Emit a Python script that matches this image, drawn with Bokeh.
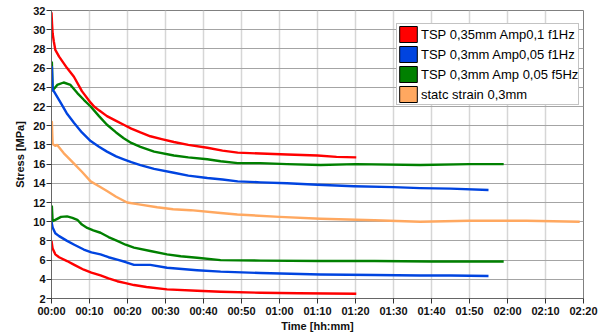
from bokeh.plotting import figure
from bokeh.models import Legend, LegendItem, FixedTicker, Range1d
from bokeh.embed import file_html
from bokeh.resources import INLINE

# Time axis in minutes, labelled as hh:mm
x_ticks = list(range(0, 141, 10))
x_tick_labels = ["00:00", "00:10", "00:20", "00:30", "00:40", "00:50", "01:00", "01:10",
                 "01:20", "01:30", "01:40", "01:50", "02:00", "02:10", "02:20"]
y_ticks = list(range(2, 33, 2))

# TSP 0,35mm Amp0,1 f1Hz (upper and lower stress envelopes)
red_hi_t = [0, 0.15, 0.3, 0.6, 1.0, 2.0, 4.1, 5.9, 8.0, 10.3, 11.2, 12.5, 14.6, 17, 19, 21, 23.4,
            26, 29, 32.2, 36, 41, 45, 49, 55, 62, 70, 75, 80.2]
red_hi_v = [31.8, 30.6, 29.6, 28.8, 27.9, 27.2, 26.0, 25.1, 23.6, 22.4, 22.0, 21.6, 21.0, 20.5,
            20.1, 19.7, 19.3, 18.9, 18.6, 18.3, 18.0, 17.7, 17.4, 17.2, 17.1, 17.0, 16.9, 16.75, 16.7]
red_lo_t = [0, 0.3, 1, 2, 4.1, 6, 8.5, 10.5, 12.9, 15, 17.3, 19.5, 21.7, 25, 30.4, 38.3, 44.5,
            55, 65, 80.2]
red_lo_v = [8.0, 7.2, 6.6, 6.3, 5.9, 5.5, 5.0, 4.7, 4.4, 4.1, 3.8, 3.6, 3.4, 3.2, 2.95, 2.8, 2.7,
            2.6, 2.55, 2.5]

# TSP 0,3mm Amp0,05 f1Hz
blue_hi_t = [0, 0.1, 0.3, 0.6, 2.4, 4, 5.9, 8, 10.3, 12.5, 14.6, 17, 19, 21, 23.4, 27, 32.2, 36,
             41, 45, 49, 55, 62, 70, 79.6, 90, 97, 105, 115]
blue_hi_v = [23.8, 26.1, 23.7, 23.6, 22.4, 21.3, 20.3, 19.3, 18.4, 17.8, 17.3, 16.8, 16.5, 16.2,
             15.9, 15.5, 15.1, 14.8, 14.55, 14.4, 14.2, 14.1, 14.0, 13.85, 13.7, 13.6, 13.5, 13.45, 13.3]
blue_lo_t = [0, 0.3, 1, 2, 4.1, 6, 8.5, 10.5, 12.9, 15, 17.3, 19.5, 21.7, 26, 30.4, 38.3, 44.5,
             55, 70.8, 85, 97, 105, 115]
blue_lo_v = [10.0, 9.4, 8.8, 8.5, 8.0, 7.6, 7.1, 6.8, 6.6, 6.3, 6.05, 5.8, 5.5, 5.5, 5.2, 4.95,
             4.8, 4.65, 4.5, 4.45, 4.4, 4.4, 4.35]

# TSP 0,3mm Amp 0,05 f5Hz
green_hi_t = [0, 0.1, 0.3, 0.8, 1.5, 3.2, 5, 6.8, 8.5, 10.3, 12.5, 14.6, 17, 19, 21, 23.4, 27,
              32.2, 36, 41, 44.5, 49, 55, 62, 70.8, 80, 97, 110, 119]
green_hi_v = [24.0, 26.6, 23.7, 23.9, 24.25, 24.5, 24.25, 23.4, 22.7, 22.0, 21.0, 20.1, 19.3,
              18.7, 18.2, 17.8, 17.3, 16.9, 16.7, 16.5, 16.3, 16.1, 16.1, 16.0, 15.9, 16.0, 15.9,
              16.0, 16.0]
green_lo_t = [0, 0.1, 0.3, 1.5, 2.5, 4.1, 5.5, 6.8, 8, 9.4, 11, 12.9, 15, 17.3, 19.5, 21.7, 26,
              30.4, 34, 38.3, 44.5, 55, 70.8, 85, 100, 110, 119]
green_lo_v = [10.2, 11.6, 10.05, 10.3, 10.5, 10.55, 10.4, 10.2, 9.7, 9.35, 9.1, 8.85, 8.4, 8.0,
              7.6, 7.3, 6.95, 6.6, 6.4, 6.25, 6.0, 5.95, 5.9, 5.9, 5.85, 5.85, 5.85]

# statc strain 0,3mm
orange_t = [0, 0.1, 0.3, 1, 1.5, 3.2, 5.8, 8, 10.3, 12.5, 14.6, 17, 19.9, 23, 27.8, 32, 36.6,
            44.5, 48.9, 60, 70.8, 85, 97, 110, 125, 139]
orange_v = [18.0, 20.4, 18.1, 17.9, 18.0, 17.15, 16.1, 15.2, 14.2, 13.7, 13.2, 12.6, 12.0, 11.8,
            11.5, 11.3, 11.2, 10.9, 10.75, 10.5, 10.3, 10.15, 10.0, 10.1, 10.1, 10.0]

labels = ["TSP 0,35mm Amp0,1 f1Hz", "TSP 0,3mm Amp0,05 f1Hz", "TSP 0,3mm Amp 0,05 f5Hz",
          "statc strain 0,3mm"]
colors = ["#ff0000", "#0044e0", "#008000", "#ffa860"]

FONT = "Liberation Sans"

p = figure(width=601, height=334, output_backend="svg", toolbar_location=None,
           x_range=Range1d(0, 140), y_range=Range1d(2, 32),
           min_border_left=51, min_border_right=18, min_border_top=10, min_border_bottom=35)
p.background_fill_color = "white"
p.border_fill_color = "white"
p.outline_line_color = "#808080"

# grids: light verticals, darker horizontals
p.xgrid.grid_line_color = "#d6d6d6"
p.xgrid.grid_line_width = 1.5
p.ygrid.grid_line_color = "#a4a4a4"
p.ygrid.grid_line_width = 1

p.xaxis.ticker = FixedTicker(ticks=x_ticks)
p.xaxis.major_label_overrides = dict(zip(x_ticks, x_tick_labels))
p.yaxis.ticker = FixedTicker(ticks=y_ticks)

for ax in (p.xaxis, p.yaxis):
    ax.axis_line_color = "#666666"
    ax.major_tick_line_color = "#333333"
    ax.major_tick_out = 5
    ax.major_tick_in = 0
    ax.minor_tick_line_color = None
    ax.major_label_text_font = FONT
    ax.major_label_text_font_style = "bold"
    ax.major_label_text_font_size = "11px"
    ax.major_label_text_color = "#111111"
    ax.axis_label_text_font = FONT
    ax.axis_label_text_font_style = "bold"
    ax.axis_label_text_font_size = "11px"
    ax.axis_label_text_color = "#111111"
    ax.major_label_standoff = 1
    ax.axis_label_standoff = 0

p.xaxis.axis_label = "Time [hh:mm]"
p.yaxis.axis_label = "Stress [MPa]"
p.yaxis.axis_label_standoff = 4

series = [
    (colors[0], [(red_hi_t, red_hi_v), (red_lo_t, red_lo_v)]),
    (colors[1], [(blue_hi_t, blue_hi_v), (blue_lo_t, blue_lo_v)]),
    (colors[2], [(green_hi_t, green_hi_v), (green_lo_t, green_lo_v)]),
    (colors[3], [(orange_t, orange_v)]),
]

# draw orange first so the test curves sit on top
for color, curves in reversed(series):
    for t, v in curves:
        p.line(t, v, line_color=color, line_width=2.4, line_join="round")

# filled swatches for the legend (a single NaN box each, so nothing shows in the plot)
nan = float("nan")
items = []
for label, color in zip(labels, colors):
    sw = p.quad(left=[nan], right=[nan], top=[nan], bottom=[nan], fill_color=color,
                line_color="black", line_width=1)
    items.append(LegendItem(label=label, renderers=[sw]))

legend = Legend(items=items, location=(345, 193))
legend.label_text_font = FONT
legend.label_text_font_size = "13px"
legend.label_text_color = "black"
legend.glyph_width = 22
legend.glyph_height = 20
legend.label_height = 17
legend.spacing = -3
legend.padding = 0
legend.margin = 0
legend.label_standoff = 2
legend.border_line_color = "#888888"
legend.background_fill_color = "white"
legend.background_fill_alpha = 1
p.add_layout(legend)

open("out.html", "w").write(file_html(p, INLINE))
